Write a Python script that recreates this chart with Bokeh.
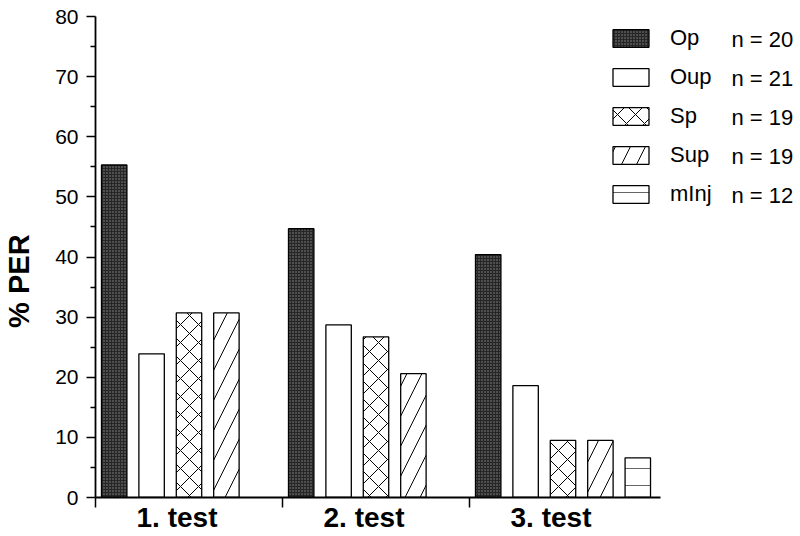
from bokeh.plotting import figure
from bokeh.models import Range1d, FixedTicker, Legend, LegendItem, Label
from bokeh.embed import file_html
from bokeh.resources import INLINE

# ---- data ----
groups = ["1. test", "2. test", "3. test"]
series = ["Op", "Oup", "Sp", "Sup", "mInj"]
counts = [20, 21, 19, 19, 12]
op_vals = [55.3, 44.7, 40.4]
oup_vals = [23.9, 28.7, 18.6]
sp_vals = [30.7, 26.7, 9.5]
sup_vals = [30.7, 20.6, 9.5]
minj_vals = [None, None, 6.6]
y_ticks = [0, 10, 20, 30, 40, 50, 60, 70, 80]
y_minor = [5, 15, 25, 35, 45, 55, 65, 75]
y_title = "% PER"
values = [op_vals, oup_vals, sp_vals, sup_vals, minj_vals]

# ---- layout ----
W, H = 800, 536
L, T, B = 95, 16, 39
FW = W - L
FH = H - T - B
NS = len(series)
NG = len(groups)
SLOT = 561 / (NS * NG)
x_end = FW / SLOT
YMAX = 80
SY = FH / YMAX
FONT = "Liberation Sans"

def dx(px):
    return (px - L) / SLOT

def dy(py):
    return (T + FH - py) / SY

p = figure(width=W, height=H, x_range=Range1d(0, x_end), y_range=Range1d(0, YMAX),
           output_backend="svg", toolbar_location=None,
           min_border_left=L, min_border_right=0, min_border_top=T, min_border_bottom=B)
p.outline_line_color = None
p.xgrid.visible = False
p.ygrid.visible = False
p.background_fill_color = "white"
p.border_fill_color = "white"

# y axis
ya = p.yaxis[0]
ya.ticker = FixedTicker(ticks=y_ticks, minor_ticks=y_minor)
ya.major_tick_out = 9
ya.major_tick_in = 0
ya.minor_tick_out = 5
ya.minor_tick_in = 0
ya.major_tick_line_width = 1.5
ya.minor_tick_line_width = 1.5
ya.axis_line_width = 1.8
ya.major_label_standoff = 8
ya.major_label_text_font = FONT
ya.major_label_text_font_size = "21px"
ya.major_label_text_color = "black"
ya.axis_line_color = "black"
ya.axis_label = y_title + "\u00a0" * 6
ya.axis_label_text_font = FONT
ya.axis_label_text_font_size = "29px"
ya.axis_label_text_font_style = "bold"
ya.axis_label_text_color = "black"
ya.axis_label_standoff = 17

# x axis: group names as major labels, group separators as minor ticks
label_shift = 12 / SLOT
label_pos = [g * NS + NS / 2 - label_shift for g in range(NG)]
xa = p.xaxis[0]
xa.ticker = FixedTicker(ticks=label_pos, minor_ticks=[g * NS for g in range(NG)])
xa.major_label_overrides = {pos: name for pos, name in zip(label_pos, groups)}
xa.major_tick_out = 0
xa.major_tick_in = 0
xa.major_tick_line_color = None
xa.minor_tick_out = 10
xa.minor_tick_in = 0
xa.minor_tick_line_width = 1.5
xa.axis_line_width = 1.8
xa.major_label_standoff = -6
xa.major_label_text_font = FONT
xa.major_label_text_font_size = "28px"
xa.major_label_text_font_style = "bold"
xa.major_label_text_color = "black"
xa.bounds = (0, NS * NG + 0.1)
xa.axis_line_color = "black"

styles = [
    dict(fill_color="#262626", hatch_pattern="dot", hatch_color="#8c8c8c", hatch_scale=3, hatch_weight=1),
    dict(fill_color="white"),
    dict(fill_color="white", hatch_pattern="diagonal_cross", hatch_color="black", hatch_scale=18, hatch_weight=1),
    dict(fill_color="white", hatch_pattern="right_diagonal_line", hatch_color="black", hatch_scale=30, hatch_weight=1),
    dict(fill_color="white", hatch_pattern="horizontal_line", hatch_color="#666666", hatch_scale=17, hatch_weight=1),
]

items = []
for si, name in enumerate(series):
    xs, tops = [], []
    for g, v in enumerate(values[si]):
        if v is not None:
            xs.append(g * NS + si + 0.5)
            tops.append(v)
    r = p.vbar(x=xs, top=tops, bottom=0, width=0.68, line_color="black", line_width=1.3, **styles[si])
    items.append(LegendItem(label=name, renderers=[r]))

legend = Legend(items=items, location=(513, 290), glyph_width=45, glyph_height=22,
                label_height=26, label_standoff=17, spacing=13, padding=0, margin=0,
                label_text_font=FONT, label_text_font_size="22px", label_text_color="black",
                border_line_color=None, background_fill_alpha=0)
p.add_layout(legend)

# n = counts column
row0 = 39.3
pitch = 38.8
for k, c in enumerate(counts):
    p.add_layout(Label(x=dx(731), y=dy(row0 + k * pitch), text=f"n = {c}",
                       text_font=FONT, text_font_size="22px", text_baseline="middle",
                       text_align="left", text_color="black"))

open("out.html", "w").write(file_html(p, INLINE))
